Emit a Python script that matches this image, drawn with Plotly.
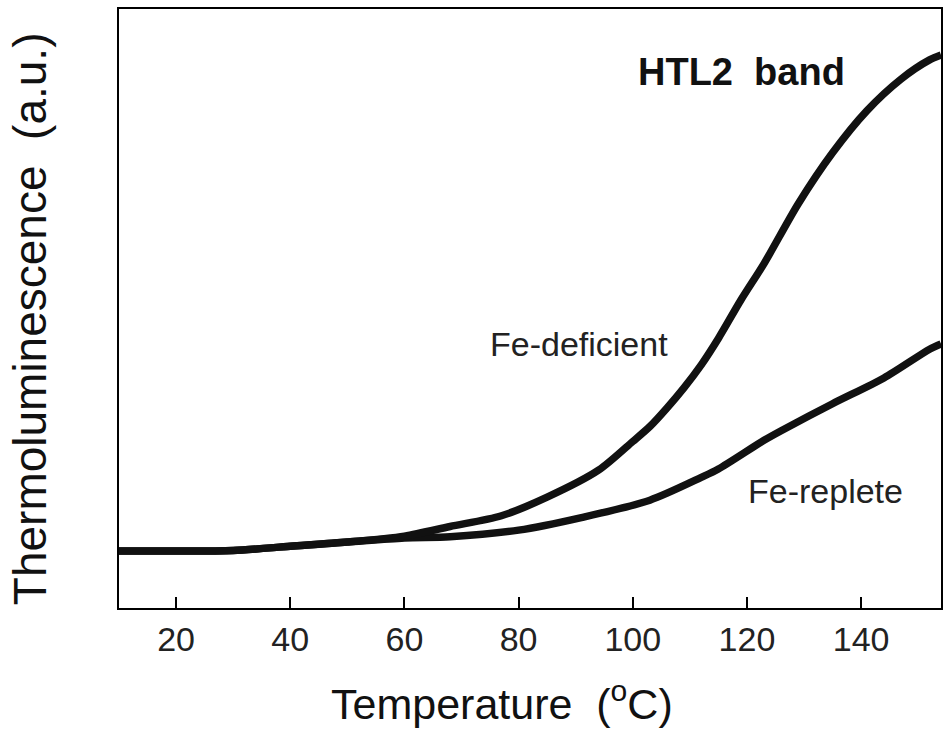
import plotly.graph_objects as go

# Temperature (°C) and thermoluminescence (a.u.)
temp_def = [10, 15, 20, 30, 40, 50, 60, 68, 77, 85, 94, 100, 103, 106, 109, 112, 115, 119, 123, 129, 135, 141, 147, 152, 154]
tl_def = [9.5, 9.5, 9.5, 9.6, 10.3, 11.0, 12.0, 13.6, 15.4, 18.5, 23.0, 27.8, 30.3, 33.4, 36.8, 40.6, 45.0, 51.5, 57.5, 67.5, 76.0, 83.0, 88.3, 91.5, 92.3]

temp_rep = [10, 15, 20, 30, 40, 50, 60, 68, 80, 91, 103, 112, 115, 123, 126, 135, 144, 152, 154]
tl_rep = [9.5, 9.5, 9.5, 9.6, 10.3, 11.0, 11.7, 11.9, 13.0, 15.1, 18.0, 21.8, 23.2, 28.0, 29.6, 34.1, 38.4, 43.2, 44.1]

x_ticks = [20, 40, 60, 80, 100, 120, 140]

FONT = "Liberation Sans, Arial, sans-serif"

fig = go.Figure()
for t, v, name in [(temp_rep, tl_rep, "Fe-replete"), (temp_def, tl_def, "Fe-deficient")]:
    fig.add_trace(go.Scatter(x=t, y=v, mode="lines", name=name,
                             line=dict(color="#111", width=7.5, shape="spline", smoothing=0.8),
                             showlegend=False))

fig.add_annotation(x=90.6, y=44.1, text="Fe-deficient", showarrow=False,
                   font=dict(family=FONT, size=34, color="#222"))
fig.add_annotation(x=133.8, y=19.6, text="Fe-replete", showarrow=False,
                   font=dict(family=FONT, size=34, color="#222"))
fig.add_annotation(x=119, y=89.5, text="<b>HTL2  band</b>", showarrow=False,
                   font=dict(family=FONT, size=38, color="#111"))

# axis titles
fig.add_annotation(xref="paper", yref="paper", x=0.466, y=-0.155, text="Temperature  (<sup>o</sup>C)",
                   showarrow=False, xanchor="center", yanchor="middle",
                   font=dict(family=FONT, size=43, color="#111"))
fig.add_annotation(xref="paper", yref="paper", x=-0.108, y=0.4825, text="Thermoluminescence  (a.u.)",
                   showarrow=False, textangle=-90, xanchor="center", yanchor="middle",
                   font=dict(family=FONT, size=46, color="#111"))

fig.update_layout(
    width=950, height=735,
    margin=dict(l=119, r=7, t=7, b=127),
    paper_bgcolor="white", plot_bgcolor="white",
    font=dict(family=FONT, color="#222"),
)
fig.update_xaxes(range=[10, 154], tickvals=x_ticks, ticks="inside", ticklen=11, tickwidth=1.5,
                 tickcolor="black", showline=True, linecolor="black", linewidth=2, mirror=True,
                 showgrid=False, zeroline=False, tickfont=dict(family=FONT, size=34, color="#222"))
fig.update_yaxes(range=[0, 100], showticklabels=False, ticks="", showline=True, linecolor="black",
                 linewidth=2, mirror=True, showgrid=False, zeroline=False)

fig.write_html("out.html", config={"displayModeBar": False},
               post_script="document.body.style.margin='0';document.body.style.padding='0';")
